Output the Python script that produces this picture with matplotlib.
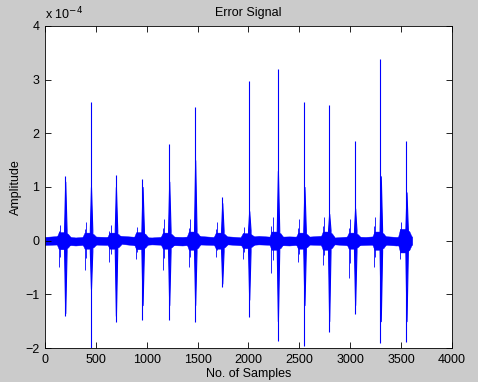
import numpy as np
import matplotlib
matplotlib.use("Agg")
import matplotlib.pyplot as plt

plt.rcParams['font.family'] = ['Liberation Sans', 'DejaVu Sans']

# spike data (amplitude in units of 1e-4)
spike_pos = [196, 449, 694, 956, 1218, 1473, 1739, 2004, 2286, 2547, 2790, 3045, 3297, 3550]
spike_hi = [1.20, 2.59, 1.22, 1.15, 1.80, 2.49, 0.82, 2.97, 3.20, 2.59, 2.52, 1.85, 3.38, 1.85]
spike_lo = [-1.40, -2.00, -1.52, -1.47, -1.47, -1.52, -0.87, -1.43, -1.87, -1.96, -1.71, -1.36, -1.90, -1.88]
core_hi = [1.10, 1.00, 1.00, 1.00, 1.10, 1.50, 0.70, 0.55, 1.30, 1.00, 0.50, 0.60, 1.20, 0.90]
core_lo = [-1.35, -0.90, -1.40, -1.20, -1.20, -1.20, -0.80, -1.10, -1.50, -1.20, -1.50, -1.20, -1.50, -1.50]
pre_hi = [0.30, 0.35, 0.30, 0.25, 0.40, 0.40, 0.35, 0.25, 0.45, 0.40, 0.45, 0.40, 0.45, 0.35]
pre_lo = [-0.50, -0.55, -0.40, -0.35, -0.55, -0.50, -0.30, -0.35, -0.60, -0.40, -0.45, -0.70, -0.50, -0.35]
shoulder = [0.16, 0.15, 0.15, 0.16, 0.15, 0.17, 0.15, 0.14, 0.17, 0.15, 0.17, 0.15, 0.17, 0.22]

# baseline noise envelope
base_x = [0, 150, 300, 450, 600, 750, 900, 1050, 1200, 1350, 1500, 1650, 1800,
          1950, 2100, 2250, 2400, 2550, 2700, 2850, 3000, 3150, 3300, 3450, 3605]
base_hi = [0.07, 0.09, 0.06, 0.08, 0.07, 0.09, 0.07, 0.06, 0.08, 0.07, 0.09, 0.07, 0.08,
           0.06, 0.09, 0.07, 0.08, 0.07, 0.09, 0.06, 0.08, 0.07, 0.09, 0.07, 0.08]
base_lo = [-0.08, -0.07, -0.09, -0.07, -0.08, -0.06, -0.09, -0.07, -0.08, -0.09, -0.07, -0.08, -0.07,
           -0.09, -0.07, -0.08, -0.09, -0.07, -0.08, -0.07, -0.09, -0.08, -0.07, -0.09, -0.08]

blue = '#0000ff'

fig = plt.figure(figsize=(4.78, 3.82), dpi=100, facecolor='#cbcbcb')
ax = fig.add_axes([0.0941, 0.089, 0.8515, 0.843])
ax.set_facecolor('white')

ax.fill_between(base_x, base_lo, base_hi, color=blue, lw=0.3, edgecolor=blue)

for i, p in enumerate(spike_pos):
    sx = [p - 80, p - 60, p - 10, p + 30, min(p + 55, 3605)]
    sh = shoulder[i]
    ax.fill_between(sx, [-0.07, -sh, -sh, -sh * 0.8, -0.07], [0.07, sh, sh, sh * 0.8, 0.07],
                    color=blue, lw=0.3, edgecolor=blue)
    ax.vlines([p - 60, p - 50], [pre_lo[i], pre_lo[i] * 0.6], [pre_hi[i] * 0.6, pre_hi[i]],
              color=blue, lw=0.6)
    # dense burst around the spike, tapering towards its tips
    ax.fill_between([p - 8, p + 3, p + 16], [-0.2, core_lo[i], -0.2], [0.2, core_hi[i], 0.2],
                    color=blue, edgecolor=blue, lw=0.8)

ax.vlines(spike_pos, spike_lo, spike_hi, color=blue, lw=0.8)

ax.set_xlim(0, 4000)
ax.set_ylim(-2, 4)
ax.set_xticks(np.arange(0, 4001, 500))
ax.set_yticks(np.arange(-2, 5, 1))
ax.tick_params(direction='in', top=True, right=True, length=4, width=0.6,
               labelsize=9, pad=4)
for s in ax.spines.values():
    s.set_linewidth(0.6)

ax.text(0.0, 1.012, r'x 10$^{-4}$', transform=ax.transAxes, fontsize=9,
        ha='left', va='bottom')
ax.set_title('Error Signal', fontsize=9, pad=7)
ax.set_xlabel('No. of Samples', fontsize=9, labelpad=2)
ax.set_ylabel('Amplitude', fontsize=9, labelpad=2)

fig.savefig('out.png', dpi=100, facecolor=fig.get_facecolor())
